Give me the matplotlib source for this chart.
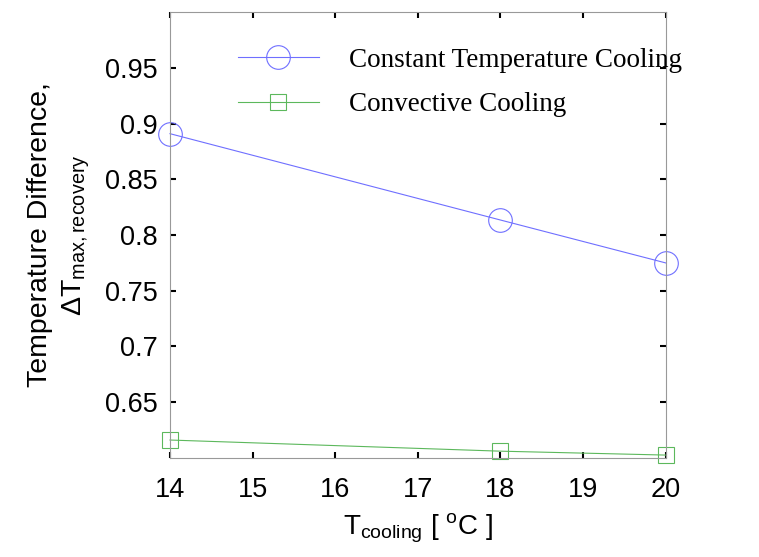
import matplotlib
matplotlib.use('Agg')
import matplotlib.pyplot as plt
from matplotlib.ticker import FormatStrFormatter

# data
t_cooling = [14, 18, 20]
const_temp = [0.891, 0.8135, 0.775]
convective = [0.616, 0.606, 0.6025]

xticks = [14, 15, 16, 17, 18, 19, 20]
yticks = [0.65, 0.7, 0.75, 0.8, 0.85, 0.9, 0.95]

plt.rcParams['font.family'] = ['Liberation Sans', 'DejaVu Sans']
plt.rcParams['mathtext.fontset'] = 'custom'
plt.rcParams['mathtext.rm'] = 'Liberation Sans'
plt.rcParams['mathtext.it'] = 'Liberation Sans'

fig = plt.figure(figsize=(7.59, 5.57), dpi=100)
ax = fig.add_axes([0.224, 0.178, 0.653, 0.800])

ax.plot(t_cooling, const_temp, color='#6f6fff', lw=0.8, marker='o', ms=17,
        mfc='none', mec='#6f6fff', mew=0.8, clip_on=False,
        label='Constant Temperature Cooling')
ax.plot(t_cooling, convective, color='#5cb85c', lw=0.8, marker='s', ms=12,
        mfc='none', mec='#5cb85c', mew=0.8, clip_on=False,
        label='Convective Cooling')

ax.set_xlim(14, 20)
ax.set_ylim(0.6, 1.0)
ax.set_xticks(xticks)
ax.set_yticks(yticks)
ax.yaxis.set_major_formatter(FormatStrFormatter('%g'))
ax.tick_params(direction='in', length=4, width=1.5, color='black', labelsize=19.5,
               top=True, right=True)
ax.tick_params(axis='x', pad=14)
ax.tick_params(axis='y', pad=9)
for s in ax.spines.values():
    s.set_color('#999999')
    s.set_linewidth(0.8)

ax.set_xlabel(r'T$_{\mathrm{cooling}}$ [ $^{\mathrm{o}}$C ]', fontsize=20, labelpad=6)
ax.set_ylabel('Temperature Difference,\n' + r'$\Delta$T$_{\mathrm{max,recovery}}$',
              fontsize=20.5, labelpad=9, linespacing=1.4)

leg = ax.legend(loc='upper left', bbox_to_anchor=(0.087, 0.975), frameon=False,
                prop={'family': 'Liberation Serif', 'size': 19.5}, handlelength=3.0,
                handletextpad=1.1, labelspacing=0.72)

fig.savefig('out.png', dpi=100)
